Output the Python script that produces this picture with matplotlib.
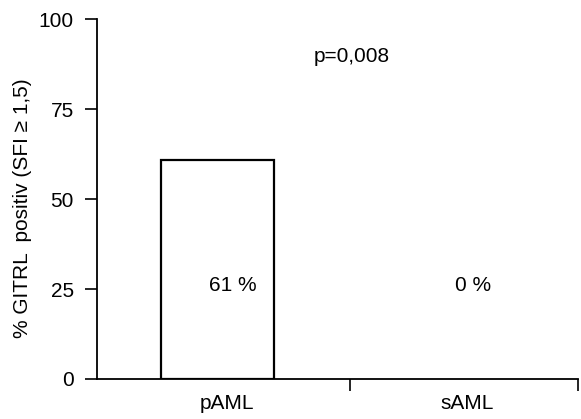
import matplotlib
matplotlib.use("Agg")
import matplotlib.pyplot as plt

plt.rcParams['font.family'] = ['Liberation Sans', 'DejaVu Sans']

# Data
groups = ["pAML", "sAML"]
positive_pct = [61, 0]
p_text = "p=0,008"
y_ticks = [0, 25, 50, 75, 100]

FS = 15

fig = plt.figure(figsize=(5.81, 4.19), dpi=100)
ax = fig.add_axes([0.167, 0.0955, 0.828, 0.858])

x = list(range(len(groups)))
edge = ["black" if v > 0 else "none" for v in positive_pct]
ax.bar([xi - 0.04 for xi in x], positive_pct, width=0.47,
       facecolor="white", edgecolor=edge, linewidth=1.6, zorder=2)

for xi, v in zip(x, positive_pct):
    ax.text(xi + 0.025, 26, f"{v} %", ha="center", va="center", fontsize=FS)

ax.text(0.52, 89.6, p_text, ha="center", va="center", fontsize=FS)

ax.set_xlim(-0.54, 1.46)
ax.set_ylim(0, 100)

ax.set_yticks(y_ticks)
ax.set_yticklabels([str(t) for t in y_ticks], fontsize=FS)
ax.tick_params(axis="y", length=8.6, width=1.2, pad=8)

# group boundaries as major ticks, group names as minor tick labels
ax.set_xticks([0.51, 1.46])
ax.set_xticklabels(["", ""])
ax.set_xticks(x, minor=True)
ax.set_xticklabels(groups, minor=True, fontsize=FS)
ax.tick_params(axis="x", which="major", length=8.6, width=1.2)
ax.tick_params(axis="x", which="minor", length=0, pad=11)

for side in ["top", "right"]:
    ax.spines[side].set_visible(False)
for side in ["left", "bottom"]:
    ax.spines[side].set_linewidth(1.3)
ax.spines["bottom"].set_zorder(3)

ax.set_ylabel("% GITRL  positiv (SFI \u2265 1,5)", fontsize=FS)
ax.yaxis.set_label_coords(-0.135, 0.476)

fig.savefig("out.png", dpi=100)
